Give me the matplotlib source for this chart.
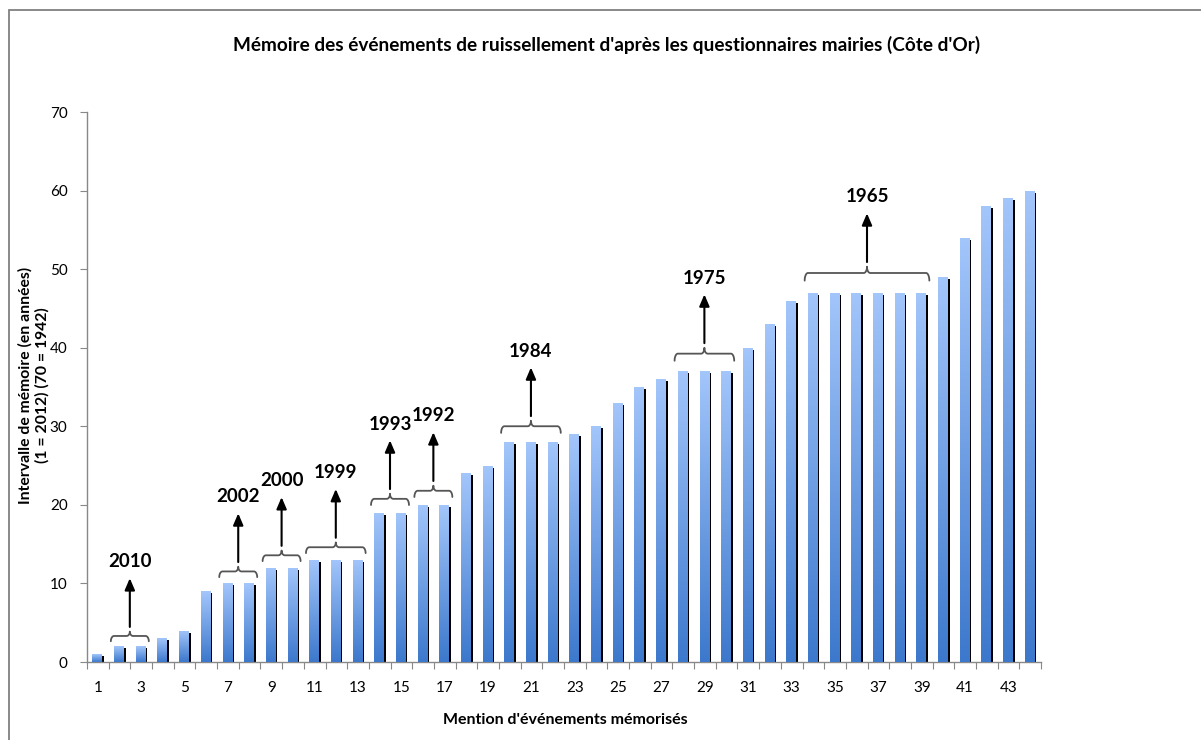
import numpy as np
import matplotlib
matplotlib.use('Agg')
import matplotlib.pyplot as plt
from matplotlib.patches import Rectangle
from matplotlib.colors import LinearSegmentedColormap

plt.rcParams['font.family'] = ['Lato', 'DejaVu Sans']

# données
mentions = list(range(1, 45))
intervalles = [1, 2, 2, 3, 4, 9, 10, 10, 12, 12, 13, 13, 13, 19, 19, 20, 20, 24, 25, 28,
               28, 28, 29, 30, 33, 35, 36, 37, 37, 37, 40, 43, 46, 47, 47, 47, 47, 47, 47, 49,
               54, 58, 59, 60]
annees = ['2010', '2002', '2000', '1999', '1993', '1992', '1984', '1975', '1965']
groupe_debut = [2, 7, 9, 11, 14, 16, 20, 28, 34]
groupe_fin = [3, 8, 10, 13, 15, 17, 22, 30, 39]

fig = plt.figure(figsize=(12.01, 7.4), dpi=100)
ax = fig.add_axes([87 / 1201, 78 / 740, 954 / 1201, 550 / 740])

# cadre du graphique
fig.patches.append(Rectangle((9 / 1201, -0.05), 1.1, 730 / 740 + 0.05, transform=fig.transFigure,
                             fill=False, edgecolor='#808080', linewidth=1.3))

largeur = 0.42
decal = 0.11
cmap = LinearSegmentedColormap.from_list('bleu', ['#3c78cc', '#a3c6fb'])
grad = np.linspace(0, 1, 256).reshape(-1, 1)

x = np.array(mentions) - 0.04
# ombre noire
ax.bar(x + decal, np.array(intervalles) - 0.25, width=largeur, color='black', zorder=2)
barres = ax.bar(x, intervalles, width=largeur, color='none', zorder=3)
for b in barres:
    x0, y0 = b.get_x(), b.get_y()
    im = ax.imshow(grad, cmap=cmap, origin='lower', aspect='auto',
                   extent=[x0, x0 + b.get_width(), y0, y0 + b.get_height()], zorder=3)
    im.set_clip_path(b)


def dessine_accolade(ax, x1, x2, y, h):
    # accolade horizontale, pointe vers le haut
    xm = (x1 + x2) / 2
    q = h * 0.55
    r = 0.15
    t = np.linspace(0, np.pi / 2, 20)
    xa = x1 + r - r * np.cos(t)
    ya = y + q * np.sin(t)
    xb = xm - r + r * np.sin(t)
    yb = y + q + (h - q) * (1 - np.cos(t))
    xc = xm + r - r * np.sin(t[::-1])
    yc = y + q + (h - q) * (1 - np.cos(t[::-1]))
    xd = x2 - r + r * np.cos(t[::-1])
    yd = y + q * np.sin(t[::-1])
    xs = np.concatenate([xa, xb, xc, xd])
    ys = np.concatenate([ya, yb, yc, yd])
    ax.plot(xs, ys, color='#555555', lw=1.3, zorder=4, solid_capstyle='round')


for an, d, f in zip(annees, groupe_debut, groupe_fin):
    hmax = max(intervalles[d - 1:f])
    yb = hmax + 0.6 + 0.02 * hmax
    h = 1.2 + 0.012 * hmax
    dessine_accolade(ax, d - 0.4, f + 0.35, yb, h)
    xm = (d - 0.4 + f + 0.35) / 2
    ytip = yb + h + 6.8
    ax.annotate('', xy=(xm, ytip), xytext=(xm, yb + h + 0.6),
                arrowprops=dict(arrowstyle='-|>,head_length=0.7,head_width=0.3',
                                color='black', lw=1.5, shrinkA=0, shrinkB=0), zorder=5)
    ax.text(xm, ytip + 1.0, an, ha='center', va='bottom', fontsize=13.5,
            fontweight='bold', color='black')

ax.set_xlim(0.5, 44.5)
ax.set_ylim(0, 70)
ax.set_yticks(range(0, 71, 10))
ax.set_xticks(np.arange(0.5, 45, 1))
ax.set_xticklabels([])
ax.set_xticks(mentions[::2], minor=True)
ax.set_xticklabels([str(m) for m in mentions[::2]], minor=True)
ax.tick_params(axis='x', which='major', length=5, color='#888888', direction='out')
ax.tick_params(axis='x', which='minor', length=0, pad=14, labelsize=11)
ax.tick_params(axis='y', length=5, color='#888888', labelsize=11, pad=9)
for s in ['top', 'right']:
    ax.spines[s].set_visible(False)
for s in ['left', 'bottom']:
    ax.spines[s].set_color('#888888')
    ax.spines[s].set_linewidth(1.0)

fig.text(607 / 1201, 1 - 45 / 740,
         "Mémoire des événements de ruissellement d'après les questionnaires mairies (Côte d'Or)",
         ha='center', va='center', fontsize=13.7, fontweight='bold')
fig.text(565 / 1201, 1 - 720 / 740, "Mention d'événements mémorisés",
         ha='center', va='center', fontsize=11.5, fontweight='bold')
fig.text(34 / 1201, 1 - 385 / 740, "Intervalle de mémoire (en années)\n(1 = 2012) (70 = 1942)",
         ha='center', va='center', rotation=90, fontsize=11.3, fontweight='bold',
         linespacing=1.2)

fig.savefig('out.png', dpi=100)
